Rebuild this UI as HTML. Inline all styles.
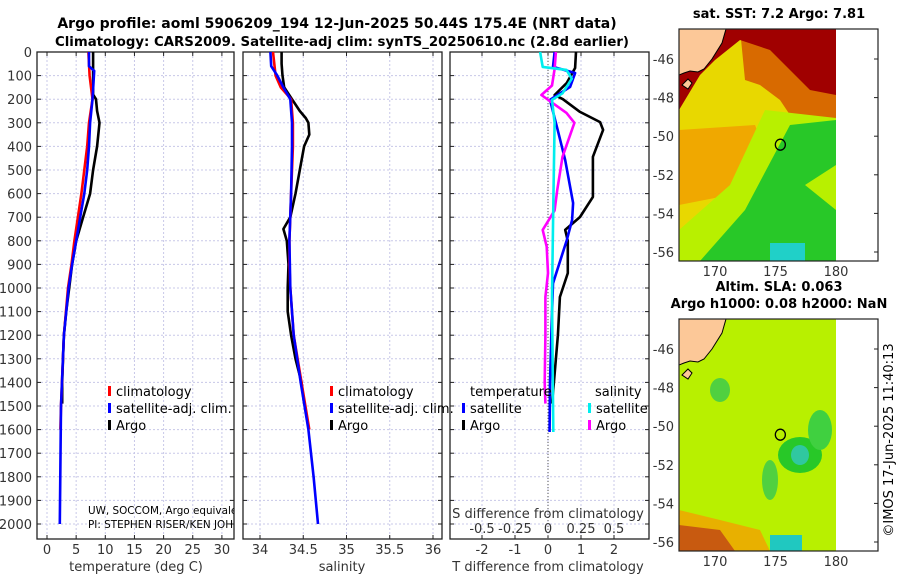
<!DOCTYPE html>
<html><head><meta charset="utf-8"><style>
body{margin:0;background:#fff}
svg{display:block;font-family:"DejaVu Sans","Liberation Sans",sans-serif}
.t{font-size:13px;fill:#333}
.b{font-size:13px;font-weight:bold;fill:#000}
</style></head><body>
<svg id="c" width="900" height="580" viewBox="0 0 900 580">
<g>
<text class="b" x="337" y="28" text-anchor="middle" style="font-size:14px">Argo profile: aoml 5906209_194 12-Jun-2025 50.44S 175.4E (NRT data)</text>
<text class="b" x="342" y="46" text-anchor="middle" style="font-size:13.3px">Climatology: CARS2009. Satellite-adj clim: synTS_20250610.nc (2.8d earlier)</text>
</g>
<g id="plots"></g>
<g id="maps"></g>
</svg>
<script>
// ---------- data ----------
const depthTicks=[0,100,200,300,400,500,600,700,800,900,1000,1100,1200,1300,1400,1500,1600,1700,1800,1900,2000];
const tempTicks=[0,5,10,15,20,25,30];
const salTicks=[34,34.5,35,35.5,36];
const tdiffTicks=[-2,-1,0,1,2];
const sdiffTicks=[-0.5,-0.25,0,0.25,0.5];
const sdiffTickLabels=["-0.5","-0.25","0","0.25","0.5"];

const argoTDepth=[0,50,180,200,250,300,400,500,600,700,800,900,1000,1100,1200,1300,1400,1490];
const argoT=[7.9,7.9,7.9,8.4,8.6,9.0,8.6,7.9,7.4,6.2,5.0,4.3,3.8,3.3,2.9,2.75,2.6,2.6];
const climTDepth=[0,100,200,300,400,500,600,700,800,900,1000,1200,1500,1600];
const climT=[7.1,7.3,7.8,7.2,6.9,6.4,5.9,5.3,4.7,4.2,3.6,2.9,2.4,2.3];
const satTDepth=[0,60,80,200,300,400,500,600,700,800,900,1000,1200,1500,2000];
const satT=[7.2,7.2,8.1,7.8,7.4,7.2,6.9,6.4,5.7,5.0,4.3,3.7,2.9,2.4,2.2];

const argoSDepth=[0,50,100,150,200,250,280,300,350,400,500,600,700,750,800,900,1000,1100,1200,1300,1400,1490];
const argoS=[34.25,34.25,34.26,34.28,34.37,34.46,34.53,34.56,34.57,34.51,34.46,34.41,34.35,34.27,34.31,34.33,34.32,34.32,34.36,34.41,34.48,34.51];
const climSDepth=[0,100,150,200,300,400,600,700,800,900,1000,1200,1400,1600];
const climS=[34.15,34.18,34.24,34.36,34.38,34.38,34.36,34.35,34.34,34.34,34.35,34.39,34.48,34.57];
const satSDepth=[0,60,100,150,200,300,400,600,800,1000,1200,1400,1600,1800,2000];
const satS=[34.12,34.13,34.2,34.27,34.35,34.37,34.37,34.36,34.34,34.35,34.39,34.47,34.56,34.62,34.67];

const argoTdDepth=[0,68,131,182,200,254,297,330,444,614,699,754,800,937,1038,1200,1400,1490];
const argoTd=[0.85,0.82,0.57,0.2,0.45,0.97,1.58,1.67,1.36,1.36,0.97,0.52,0.6,0.6,0.36,0.3,0.18,0.12];
const satTdDepth=[0,63,89,148,203,317,458,640,712,797,980,1200,1400,1610];
const satTd=[0.2,0.15,0.82,0.67,0.06,0.27,0.52,0.76,0.73,0.57,0.15,0.1,0.06,0.05];
const satSdDepth=[0,63,76,113,175,203,300,650,1038,1300,1610];
const satSd=[-0.06,-0.04,0.14,0.18,0.11,0.03,0.05,0.04,0.03,0.035,0.04];
const argoSdDepth=[0,72,142,182,210,258,300,444,586,671,754,825,937,1038,1200,1400,1490];
const argoSd=[0.06,0.05,0.03,-0.05,0.02,0.14,0.2,0.11,0.07,0.05,-0.04,-0.01,0,-0.02,-0.02,-0.025,-0.02];

const mapLatTicks=[-46,-48,-50,-52,-54,-56];
const mapLonTicks=[170,175,180];
const floatLon=175.4, floatLat=-50.44;

// ---------- helpers ----------
const NS='http://www.w3.org/2000/svg';
function mk(tag,attrs,parent){const e=document.createElementNS(NS,tag);for(const k in attrs)e.setAttribute(k,attrs[k]);parent.appendChild(e);return e;}
const yTop=52,yBot=539;
const yD=d=>52+0.236*d;
const xT=t=>47+5.83*t;
const xS=s=>260+86.5*(s-34);
const xTd=v=>548+33*v;
const xSd=v=>548+132*v;
const plots=document.getElementById('plots');

function panel(name,x0,x1,vgrid){
  const g=mk('g',{},plots);
  
  
  depthTicks.forEach(d=>{const l=mk('line',{x1:x0,x2:x1,y1:yD(d),y2:yD(d),stroke:'#c8c8e8','stroke-width':1,'stroke-dasharray':'2,2'},g);
    mk('line',{x1:x0,x2:x0+4,y1:yD(d),y2:yD(d),stroke:'#222'},g);mk('line',{x1:x1-4,x2:x1,y1:yD(d),y2:yD(d),stroke:'#222'},g);});
  vgrid.forEach(x=>{const l=mk('line',{x1:x,x2:x,y1:yTop,y2:yBot,stroke:'#c8c8e8','stroke-width':1,'stroke-dasharray':'2,2'},g);
    mk('line',{x1:x,x2:x,y1:yBot-4,y2:yBot,stroke:'#222'},g);mk('line',{x1:x,x2:x,y1:yTop,y2:yTop+4,stroke:'#222'},g);});
  const r=mk('rect',{x:x0,y:yTop,width:x1-x0,height:yBot-yTop,fill:'none',stroke:'#222','stroke-width':1.3},g);
  
  return g;
}
function line(g,name,xs,ds,fx,color){
  const pts=xs.map((v,i)=>fx(v).toFixed(1)+','+yD(ds[i]).toFixed(1)).join(' ');
  const p=mk('polyline',{points:pts,fill:'none',stroke:color,'stroke-width':2.6,'stroke-linejoin':'round'},g);
  
  
}
function txt(g,name,x,y,s,anchor,cls,extra){const t=mk('text',Object.assign({x:x,y:y,'text-anchor':anchor||'start',class:cls||'t'},extra||{}),g);t.textContent=s;return t;}
function legendItem(g,x,y,color,label){
  const m=mk('rect',{x:x,y:y-10,width:3,height:10,fill:color},g);
  
  txt(g,'legend-entry',x+8,y,label,'start','t',{style:'font-size:13px;fill:#000'});
}

// panel 1
const p1=panel('temperature-panel',37,234,tempTicks.map(xT));
depthTicks.forEach(d=>txt(p1,'y-tick-label',32,yD(d)+5,String(d),'end'));
tempTicks.forEach(t=>txt(p1,'x-tick-label',xT(t),554,String(t),'middle'));
txt(p1,'x-axis-title',136,571,'temperature (deg C)','middle');
line(p1,'argo-temperature-line',argoT,argoTDepth,xT,'#000');
line(p1,'climatology-temperature-line',climT,climTDepth,xT,'#f00');
line(p1,'satellite-temperature-line',satT,satTDepth,xT,'#00f');
legendItem(p1,108,396,'#f00','climatology');
legendItem(p1,108,413,'#00f','satellite-adj. clim.');
legendItem(p1,108,430,'#000','Argo');
const clip=mk('clipPath',{id:'cp1'},p1);mk('rect',{x:37,y:490,width:197,height:45},clip);
const cg=mk('g',{'clip-path':'url(#cp1)'},p1);
txt(cg,'float-info-text',88,514,'UW, SOCCOM, Argo equivalent','start','t',{style:'font-size:10.4px;fill:#000'});
txt(cg,'pi-info-text',88,528,'PI: STEPHEN RISER/KEN JOHNSON','start','t',{style:'font-size:10.4px;fill:#000'});

// panel 2
const p2=panel('salinity-panel',243,442,salTicks.map(xS));
salTicks.forEach(s=>txt(p2,'x-tick-label',xS(s),554,String(s),'middle'));
txt(p2,'x-axis-title',342,571,'salinity','middle');
line(p2,'argo-salinity-line',argoS,argoSDepth,xS,'#000');
line(p2,'climatology-salinity-line',climS,climSDepth,xS,'#f00');
line(p2,'satellite-salinity-line',satS,satSDepth,xS,'#00f');
legendItem(p2,330,396,'#f00','climatology');
legendItem(p2,330,413,'#00f','satellite-adj. clim.');
legendItem(p2,330,430,'#000','Argo');

// panel 3
const p3=panel('difference-panel',450,649,tdiffTicks.map(xTd));
const z=mk('line',{x1:548,x2:548,y1:yTop,y2:yBot,stroke:'#555','stroke-dasharray':'1,2'},p3);

tdiffTicks.forEach(v=>txt(p3,'t-diff-tick-label',xTd(v),554,String(v),'middle'));
txt(p3,'x-axis-title',548,571,'T difference from climatology','middle');
txt(p3,'s-diff-axis-title',548,518,'S difference from climatology','middle');
sdiffTicks.forEach((v,i)=>txt(p3,'s-diff-tick-label',xSd(v),533,sdiffTickLabels[i],'middle'));
line(p3,'argo-temp-diff-line',argoTd,argoTdDepth,xTd,'#000');
line(p3,'satellite-temp-diff-line',satTd,satTdDepth,xTd,'#00f');
line(p3,'argo-sal-diff-line',argoSd,argoSdDepth,xSd,'#f0f');
line(p3,'satellite-sal-diff-line',satSd,satSdDepth,xSd,'#0ee');
txt(p3,'legend-title-temperature',470,396,'temperature','start','t',{style:'font-size:13px;fill:#000'});
legendItem(p3,462,413,'#00f','satellite');
legendItem(p3,462,430,'#000','Argo');
txt(p3,'legend-title-salinity',595,396,'salinity','start','t',{style:'font-size:13px;fill:#000'});
legendItem(p3,588,413,'#0ee','satellite');
legendItem(p3,588,430,'#f0f','Argo');

// ---------- maps ----------
const maps=document.getElementById('maps');
const lonX=lon=>715+12.1*(lon-170);
function mapPanel(name,top,title,shapes){
  const g=mk('g',{},maps);
  
  
  const latY=lat=>top+30+19.3*(-46-lat);
  const cid='clip'+name;
  const cp=mk('clipPath',{id:cid},g);mk('rect',{x:679,y:top,width:157,height:232},cp);
  const mg=mk('g',{'clip-path':'url(#'+cid+')'},g);
  shapes.forEach(s=>{const e=mk(s[0],s[1],mg);});
  const land=mk('path',{d:`M679,${top} L726,${top} L722,${top+14} L712,${top+30} L704,${top+40} L698,${top+43} L690,${top+42} L684,${top+44} L679,${top+46} Z`,fill:'#fcc898',stroke:'#000','stroke-width':1},mg);
  
  const isl=mk('path',{d:`M682,${top+56} l6,-6 l4,4 l-4,6 z`,fill:'#fcc898',stroke:'#000'},mg);
  
  const mk1=mk('ellipse',{cx:lonX(floatLon),cy:latY(floatLat),rx:5,ry:5.5,fill:'none',stroke:'#000','stroke-width':1.3},g);
  
  const fr=mk('rect',{x:679,y:top,width:199,height:232,fill:'none',stroke:'#222','stroke-width':1.2},g);
  
  mapLatTicks.forEach(l=>{txt(g,'lat-tick-label',674,latY(l)+5,String(l),'end');mk('line',{x1:874,x2:878,y1:latY(l),y2:latY(l),stroke:'#222'},g);});
  mapLonTicks.forEach(l=>txt(g,'lon-tick-label',lonX(l),top+247,String(l),'middle'));
  title.forEach((t,i)=>txt(g,'map-title',779,top-11-(title.length-1-i)*17,t,'middle','b'));
}
mapPanel('sst-map',29,['sat. SST: 7.2 Argo: 7.81'],[
 ['rect',{x:679,y:29,width:157,height:232,fill:'#e8d800'}],
 ['polygon',{points:'679,130 755,125 770,165 730,195 679,205',fill:'#f0a800'}],
 ['polygon',{points:'740,29 836,29 836,140 800,130 780,100 760,85 745,80',fill:'#d86a00'}],
 ['polygon',{points:'679,29 836,29 836,95 810,90 790,70 770,50 740,40 715,60 700,75 679,110',fill:'#a00000'}],
 ['polygon',{points:'679,230 730,185 765,110 836,118 836,261 679,261',fill:'#b8f000'}],
 ['polygon',{points:'700,261 745,210 790,125 836,120 836,165 805,185 836,210 836,261',fill:'#28c828'}],
 ['rect',{x:770,y:243,width:35,height:18,fill:'#20d0c8'}]
]);
mapPanel('sla-map',319,['Altim. SLA: 0.063','Argo h1000: 0.08 h2000: NaN'],[
 ['rect',{x:679,y:319,width:157,height:232,fill:'#b8f000'}],
 ['ellipse',{cx:800,cy:455,rx:22,ry:18,fill:'#28c828'}],
 ['ellipse',{cx:800,cy:455,rx:9,ry:10,fill:'#30c8a0'}],
 ['ellipse',{cx:820,cy:430,rx:12,ry:20,fill:'#40d040'}],
 ['ellipse',{cx:770,cy:480,rx:8,ry:20,fill:'#50d040'}],
 ['ellipse',{cx:720,cy:390,rx:10,ry:12,fill:'#50d040'}],
 ['polygon',{points:'679,510 720,520 760,530 770,551 679,551',fill:'#e8b000'}],
 ['polygon',{points:'679,525 720,530 735,551 679,551',fill:'#c85a10'}],
 ['rect',{x:770,y:535,width:32,height:16,fill:'#20c8c0'}]
]);
txt(maps,'copyright-timestamp',893,440,'©IMOS 17-Jun-2025 11:40:13','middle','t',{transform:'rotate(-90 893 440)',style:'font-size:13px;fill:#000'});
</script>
</body></html>
